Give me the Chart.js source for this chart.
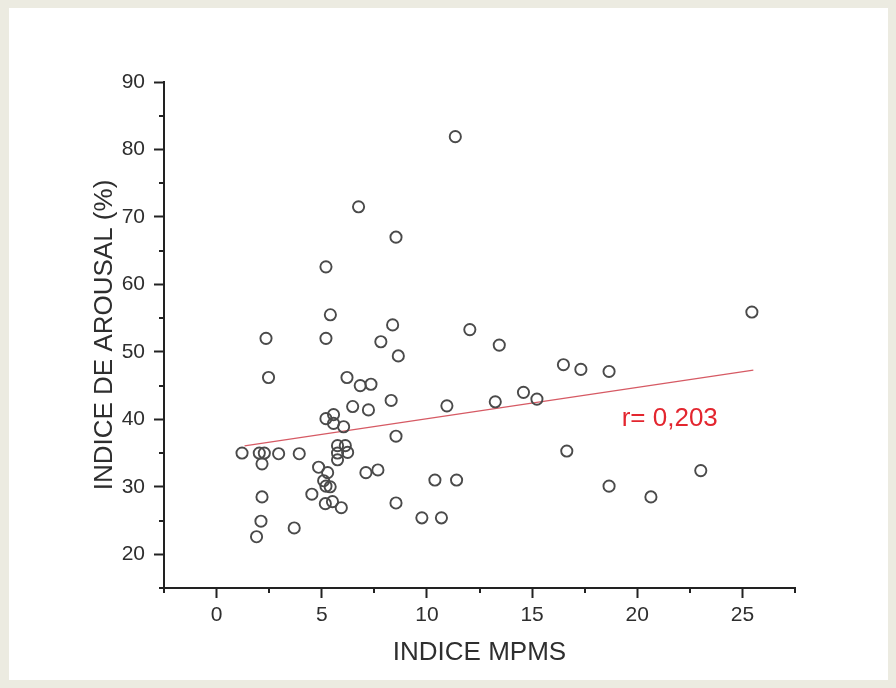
<!DOCTYPE html>
<html>
<head>
<meta charset="utf-8">
<script src="https://cdn.jsdelivr.net/npm/chart.js@4/dist/chart.umd.min.js"></script>
<style>
  html, body { margin: 0; padding: 0; }
  body { width: 896px; height: 688px; background: #ecebe1; position: relative; overflow: hidden; }
  #panel { position: absolute; left: 9px; top: 8px; width: 879px; height: 672px; background: #ffffff; }
  #wrap { position: absolute; left: 0; top: 0; width: 896px; height: 688px; }
</style>
</head>
<body>
<div id="panel"></div>
<div id="wrap"><canvas id="c" width="896" height="688"></canvas></div>
<script>
// ---- data ----
const mpms = [1.21, 2.03, 2.27, 2.95, 3.93, 2.16, 2.16, 2.11, 1.90, 3.69,
  4.85, 5.28, 5.09, 5.20, 5.40, 4.53, 5.17, 5.51, 5.93, 5.75,
  6.12, 5.75, 6.23, 5.75, 7.10, 7.67, 5.41, 2.35, 5.20, 8.37,
  7.81, 8.64, 2.47, 6.20, 6.83, 7.34, 6.47, 7.22, 8.30, 5.20,
  5.56, 5.56, 6.04, 8.53, 8.53, 9.76, 10.69, 6.75, 8.53, 5.20,
  11.35, 25.45, 12.04, 13.44, 16.49, 17.32, 18.66, 10.95, 13.25, 14.59,
  15.23, 16.65, 23.02, 18.66, 20.65, 10.38, 11.41];
const arousal = [35.0, 35.0, 35.0, 34.9, 34.9, 33.4, 28.5, 24.9, 22.6, 23.9,
  32.9, 32.1, 30.9, 30.1, 30.0, 28.9, 27.5, 27.8, 26.9, 36.1,
  36.1, 35.0, 35.1, 34.0, 32.1, 32.5, 55.5, 52.0, 52.0, 54.0,
  51.5, 49.4, 46.2, 46.2, 45.0, 45.2, 41.9, 41.4, 42.8, 40.1,
  40.7, 39.4, 38.9, 37.5, 27.6, 25.4, 25.4, 71.5, 67.0, 62.6,
  81.9, 55.9, 53.3, 51.0, 48.1, 47.4, 47.1, 42.0, 42.6, 44.0,
  43.0, 35.3, 32.4, 30.1, 28.5, 31.0, 31.0];
const fitX = [1.33, 25.52];
const fitY = [36.07, 47.29];
const xMajorTicks = [0, 5, 10, 15, 20, 25];
const xMinorTicks = [-2.5, 2.5, 7.5, 12.5, 17.5, 22.5, 27.5];
const yMajorTicks = [20, 30, 40, 50, 60, 70, 80, 90];
const yMinorTicks = [15, 25, 35, 45, 55, 65, 75, 85];
const xTitle = 'INDICE MPMS';
const yTitle = 'INDICE DE AROUSAL (%)';
const rLabel = 'r= 0,203';
const rLabelPos = [19.26, 40.07];

const FONT = "'Liberation Sans', Arial, Helvetica, sans-serif";
const AXIS = '#222222';

const points = mpms.map((x, i) => ({x: x, y: arousal[i]}));
const fitLine = fitX.map((x, i) => ({x: x, y: fitY[i]}));

const minorTicksPlugin = {
  id: 'minorTicks',
  afterDraw(chart) {
    const ctx = chart.ctx;
    const xs = chart.scales.x, ys = chart.scales.y;
    const area = chart.chartArea;
    ctx.save();
    ctx.strokeStyle = AXIS;
    ctx.lineWidth = 2;
    ctx.beginPath();
    xMinorTicks.forEach(v => {
      const px = Math.round(xs.getPixelForValue(v));
      ctx.moveTo(px, area.bottom);
      ctx.lineTo(px, area.bottom + 5);
    });
    yMinorTicks.forEach(v => {
      const py = Math.round(ys.getPixelForValue(v));
      ctx.moveTo(area.left, py);
      ctx.lineTo(area.left - 5, py);
    });
    ctx.stroke();
    // correlation label
    ctx.fillStyle = '#e3262f';
    ctx.font = '26px ' + FONT;
    ctx.textAlign = 'left';
    ctx.textBaseline = 'middle';
    ctx.fillText(rLabel, xs.getPixelForValue(rLabelPos[0]), ys.getPixelForValue(rLabelPos[1]));
    ctx.restore();
  }
};

new Chart(document.getElementById('c'), {
  type: 'scatter',
  data: {
    datasets: [
      {
        label: 'fit',
        type: 'line',
        data: fitLine,
        borderColor: '#d65a64',
        borderWidth: 1.3,
        pointRadius: 0,
        fill: false,
        order: 2
      },
      {
        label: 'pts',
        data: points,
        pointRadius: 5.6,
        pointBorderWidth: 1.9,
        pointBorderColor: '#4a4a4a',
        pointBackgroundColor: 'rgba(0,0,0,0)',
        order: 1
      }
    ]
  },
  options: {
    responsive: false,
    animation: false,
    events: [],
    layout: { padding: { left: 89, top: 82, right: 101, bottom: 20 } },
    plugins: { legend: { display: false }, tooltip: { enabled: false } },
    scales: {
      x: {
        type: 'linear',
        min: -2.5, max: 27.5,
        afterBuildTicks: s => { s.ticks = xMajorTicks.map(v => ({value: v})); },
        afterFit: s => { s.height = 80; },
        grid: { drawOnChartArea: false, drawTicks: true, tickLength: 10, tickWidth: 2, tickColor: AXIS },
        border: { display: true, color: AXIS, width: 2 },
        ticks: { autoSkip: false, maxRotation: 0, padding: 5, color: '#2e2e2e', font: { family: FONT, size: 21 } },
        title: { display: true, text: xTitle, color: '#2e2e2e', padding: { top: 0, bottom: 0 }, font: { family: FONT, size: 26 } }
      },
      y: {
        type: 'linear',
        min: 15, max: 90,
        afterBuildTicks: s => { s.ticks = yMajorTicks.map(v => ({value: v})); },
        afterFit: s => { s.width = 75; },
        grid: { drawOnChartArea: false, drawTicks: true, tickLength: 10, tickWidth: 2, tickColor: AXIS },
        border: { display: true, color: AXIS, width: 2 },
        ticks: { autoSkip: false, padding: 9, color: '#2e2e2e', font: { family: FONT, size: 21 } },
        title: { display: true, text: yTitle, color: '#2e2e2e', padding: { top: 0, bottom: 0 }, font: { family: FONT, size: 26 } }
      }
    }
  },
  plugins: [minorTicksPlugin]
});
</script>
</body>
</html>
